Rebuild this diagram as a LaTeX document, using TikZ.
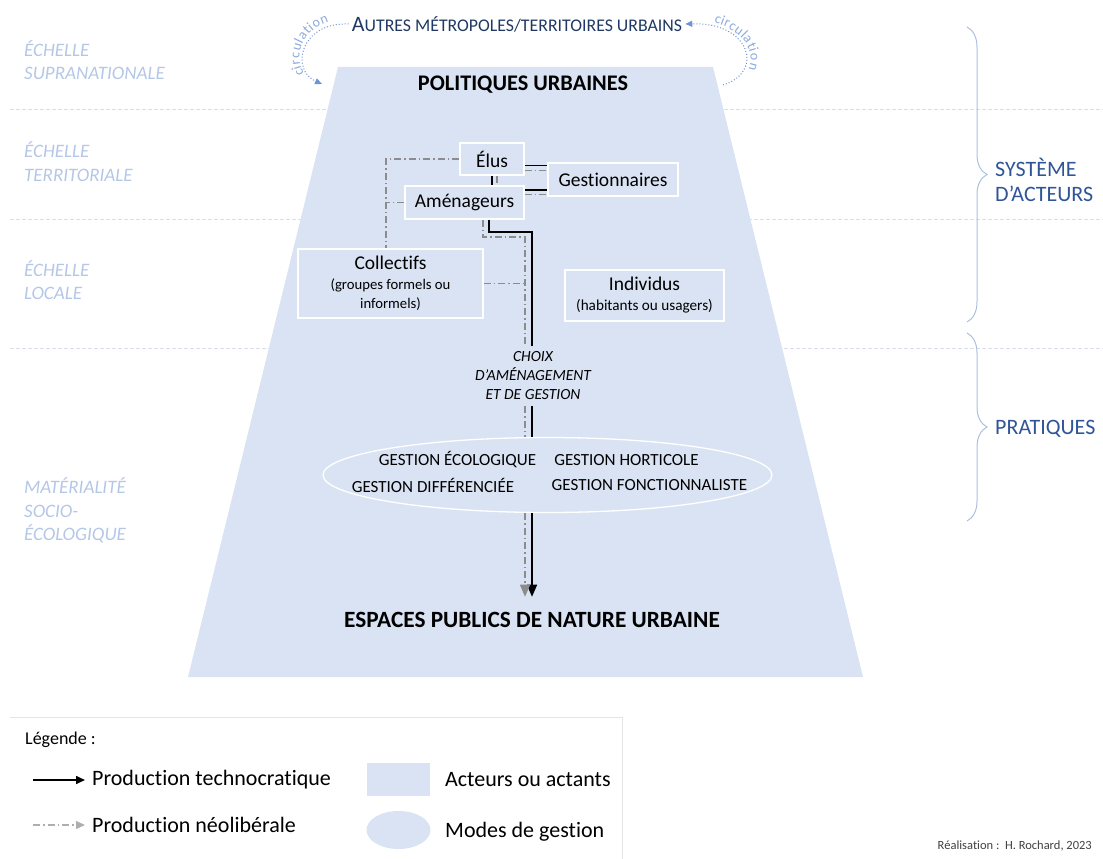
\documentclass[tikz,border=0pt]{standalone}
\usepackage{fontspec}
\setmainfont{Carlito}[Ligatures=NoCommon]
\usetikzlibrary{positioning,arrows.meta,shapes.geometric,decorations.pathreplacing,decorations.text}

\definecolor{ZoneBlue}{HTML}{DAE3F3}
\definecolor{ScaleBlue}{HTML}{B4C7E7}
\definecolor{BraceBlue}{HTML}{ADBFE0}
\definecolor{PracticeBlue}{HTML}{2F5597}
\definecolor{OtherBlue}{HTML}{203864}
\definecolor{LoopBlue}{HTML}{6F93D3}
\definecolor{LoopText}{HTML}{8FAADC}
\definecolor{NeoGray}{HTML}{8C8C8C}
\definecolor{RuleGray}{HTML}{D9DEE8}
\definecolor{LegendGray}{HTML}{E4E4E4}
\definecolor{CreditGray}{HTML}{404040}

\newcommand{\sublabel}[1]{{\fontsize{14.7}{17}\selectfont #1}}

\tikzstyle{scale-label}=[anchor=west, align=left, inner sep=2pt, text=ScaleBlue, font=\fontsize{19}{23.5}\selectfont\itshape]
\tikzstyle{scale-rule}=[RuleGray, line width=1pt, dash pattern=on 4pt off 2pt]
\tikzstyle{actor}=[draw=white, line width=1.3pt, fill=ZoneBlue, inner sep=0pt, align=center, font=\fontsize{19.5}{19}\selectfont]
\tikzstyle{techno}=[black, line width=1.6pt]
\tikzstyle{neolib}=[NeoGray, line width=1.2pt, dash pattern=on 7pt off 3pt on 1.5pt off 3pt]
\tikzstyle{gestion}=[inner sep=0pt, font=\fontsize{17}{18}\selectfont]
\tikzstyle{circulation}=[LoopBlue, line width=1pt, dotted, -{Triangle[length=7pt,width=6pt]}]
\tikzstyle{circ-label}=[decorate, decoration={text along path, text align=center, raise=4pt, text={|\fontsize{14}{14}\selectfont\color{LoopText}|circulation}}]
\tikzstyle{bracket}=[BraceBlue, line width=1pt, decorate, decoration={brace, amplitude=20pt}]
\tikzstyle{bracket-label}=[anchor=west, align=left, inner sep=2pt, text=PracticeBlue, font=\fontsize{22}{25}\selectfont]
\tikzstyle{legend-text}=[anchor=west, inner sep=2pt, font=\fontsize{22}{26}\selectfont]

\begin{document}
\begin{tikzpicture}[x=1pt, y=-1pt]
  \useasboundingbox (0,0) rectangle (1103,859);

  \draw[scale-rule] (10,109) -- (1103,109);
  \draw[scale-rule] (10,219) -- (1103,219);
  \draw[scale-rule] (10,348) -- (1103,348);

  \fill[ZoneBlue] (338,67) -- (713,67) -- (863,677) -- (188,677) -- cycle;

  \node (scale-supra) at (22,60) [scale-label] {ÉCHELLE\\SUPRANATIONALE};
  \node (scale-terri) at (22,161.5) [scale-label] {ÉCHELLE\\TERRITORIALE};
  \node (scale-local) at (22,280) [scale-label] {ÉCHELLE\\LOCALE};
  \node (scale-socio) at (22,510.5) [scale-label] {MATÉRIALITÉ\\SOCIO-\\ÉCOLOGIQUE};

  \node (other) at (517,24) [text=OtherBlue, inner sep=3pt] {\fontsize{22}{26}\selectfont A\fontsize{17.8}{26}\selectfont UTRES MÉTROPOLES/TERRITOIRES URBAINS};
  \draw[circulation] (other.west) .. controls (300,22) and (290,70) .. (322,84);
  \path[circ-label] (322,84) .. controls (290,70) and (300,22) .. (other.west);
  \draw[circulation] (723,85) .. controls (765,72) and (750,22) .. (other.east);
  \path[circ-label] (other.east) .. controls (750,22) and (765,72) .. (723,85);

  \node (politiques) at (523,85) [font=\fontsize{22.3}{26}\selectfont\bfseries] {POLITIQUES URBAINES};

  \node (elus) at (492,159) [actor, minimum width=64pt, minimum height=32pt] {Élus};
  \node (gest) at (613,179.5) [actor, minimum width=130pt, minimum height=33pt] {Gestionnaires};
  \node (amen) at (464.5,202.5) [actor, minimum width=119pt, minimum height=33pt] {Aménageurs};
  \node (coll) at (390.5,283.5) [actor, minimum width=185pt, minimum height=69pt] {Collectifs\\[1pt]\sublabel{(groupes formels ou}\\\sublabel{informels)}};
  \node (indiv) at (644.5,295.5) [actor, minimum width=159pt, minimum height=51pt] {Individus\\[1pt]{\fontsize{15.2}{17}\selectfont (habitants ou usagers)}};

  \node (choix) at (533,376) [align=center, inner xsep=0pt, inner ysep=6pt, font=\fontsize{15.5}{19}\selectfont\itshape] {CHOIX\\D’AMÉNAGEMENT\\ET DE GESTION};
  \node (modes) at (547.5,475) [ellipse, draw=white, line width=1.3pt, fill=ZoneBlue, minimum width=449pt, minimum height=75pt, inner sep=0pt] {};
  \node (modes-eco) at (457.5,460) [gestion] {GESTION ÉCOLOGIQUE};
  \node (modes-horti) at (626.5,460) [gestion] {GESTION HORTICOLE};
  \node (modes-diff) at (433,485) [gestion] {GESTION DIFFÉRENCIÉE};
  \node (modes-fonct) at (649.5,485) [gestion] {GESTION FONCTIONNALISTE};

  \node (espaces) at (532,620) [font=\fontsize{23.3}{27}\selectfont\bfseries] {ESPACES PUBLICS DE NATURE URBAINE};

  \coordinate (elus-techno) at ([yshift=-6.5pt]elus.east);
  \coordinate (elus-neolib) at ([yshift=-11.5pt]elus.east);
  \coordinate (amen-techno) at ([yshift=12.5pt]amen.east);
  \coordinate (amen-neolib) at ([yshift=8pt]amen.east);
  \coordinate (elus-down) at ([xshift=5pt]elus.south);
  \coordinate (coll-top) at ([xshift=-4.5pt]coll.north);
  \coordinate (techno-bend) at (532,232);
  \coordinate (neolib-bend) at (525,237);

  \draw[techno] (elus-techno) -- (elus-techno -| gest.west);
  \draw[neolib] (elus-neolib) -- (elus-neolib -| gest.west);
  \draw[techno] (amen-techno) -- (amen-techno -| gest.west);
  \draw[neolib] (amen-neolib) -- (amen-neolib -| gest.west);
  \draw[techno] (elus.south) -- (elus.south |- amen.north);
  \draw[neolib] (elus-down) -- (elus-down |- amen.north);
  \draw[neolib] (elus.west) -| (coll-top);
  \draw[neolib] (amen.west) -- (amen.west -| coll-top);

  \draw[techno] ([xshift=24.5pt]amen.south) |- (techno-bend) -- (techno-bend |- choix.north);
  \draw[techno] (techno-bend |- choix.south) -- (techno-bend |- modes.north);
  \draw[techno, -{Triangle[length=12pt,width=10pt]}, shorten >=12pt] (techno-bend |- modes.south) -- (techno-bend |- espaces.north);

  \draw[neolib] ([xshift=18.5pt]amen.south) |- (neolib-bend) -- (neolib-bend |- choix.north);
  \draw[neolib] (coll.east) -- (coll.east -| neolib-bend);
  \draw[neolib] (neolib-bend |- choix.south) -- (neolib-bend |- modes.north);
  \draw[neolib, -{Triangle[length=12pt,width=10pt]}, shorten >=12pt] (neolib-bend |- modes.south) -- (neolib-bend |- espaces.north);

  \draw[bracket] (967,27) -- (967,322);
  \draw[bracket] (967,333) -- (967,521);
  \node (systeme) at (993,180) [bracket-label] {SYSTÈME\\D’ACTEURS};
  \node (pratiques) at (993,429) [bracket-label] {PRATIQUES};

  \draw[LegendGray, line width=1pt] (10,717) -- (622,717) -- (622,859);
  \node (legend-title) at (25,740) [anchor=west, inner sep=0pt, font=\fontsize{18}{20}\selectfont] {Légende :};
  \coordinate (legend-techno-start) at (33,780);
  \coordinate (legend-neolib-start) at (33,825);
  \node (legend-techno) at (90,780) [legend-text] {Production technocratique};
  \node (legend-neolib) at (90,825) [legend-text] {Production néolibérale};
  \draw[techno, -{Triangle[length=9pt,width=8pt]}, shorten >=5pt] (legend-techno-start) -- (legend-techno.west);
  \draw[neolib, NeoGray!70, -{Triangle[length=9pt,width=8pt]}, shorten >=5pt] (legend-neolib-start) -- (legend-neolib.west);
  \node (legend-actor) at (398.5,779.5) [fill=ZoneBlue, minimum width=63pt, minimum height=33pt, inner sep=0pt] {};
  \node (legend-mode) at (398.5,830) [ellipse, fill=ZoneBlue, minimum width=64pt, minimum height=38pt, inner sep=0pt] {};
  \node (legend-actor-text) at (443,780) [legend-text] {Acteurs ou actants};
  \node (legend-mode-text) at (443,832) [legend-text] {Modes de gestion};

  \node (credit) at (1092,846) [anchor=east, inner sep=0pt, text=CreditGray, font=\fontsize{12.5}{14}\selectfont] {Réalisation :\ \ H. Rochard, 2023};
\end{tikzpicture}
\end{document}
